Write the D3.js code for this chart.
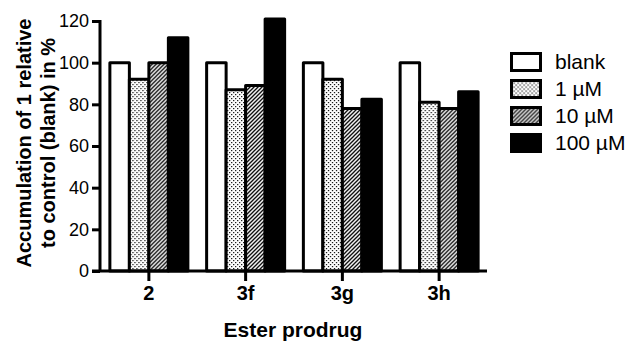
<!DOCTYPE html>
<html>
<head>
<meta charset="utf-8">
<script src="https://cdn.jsdelivr.net/npm/d3@7"></script>
<style>
  html, body { margin: 0; padding: 0; background: #fff; }
  svg { display: block; font-family: "Liberation Sans", Arial, sans-serif; }
</style>
</head>
<body>
<svg id="chart" width="625" height="343"></svg>
<script>
// Ester prodrugs on the x axis, concentration series as grouped bars
const categories = ["2", "3f", "3g", "3h"];
const seriesNames = ["blank", "1 µM", "10 µM", "100 µM"];
const blankValues = [100, 100, 100, 100];
const oneMicroValues = [92, 87, 92, 81];
const tenMicroValues = [100, 89, 78, 78];
const hundredMicroValues = [112, 121, 82.5, 86];
const yTicks = [0, 20, 40, 60, 80, 100, 120];

const seriesValues = [blankValues, oneMicroValues, tenMicroValues, hundredMicroValues];
const fills = ["#fff", "url(#dots)", "url(#hatch)", "#000"];

const svg = d3.select("#chart");

// fill patterns
const defs = svg.append("defs");
const dots = defs.append("pattern").attr("id", "dots")
  .attr("patternUnits", "userSpaceOnUse").attr("width", 4).attr("height", 4);
dots.append("rect").attr("width", 4).attr("height", 4).attr("fill", "#fff");
dots.append("rect").attr("x", 0).attr("y", 0).attr("width", 1.2).attr("height", 1.2).attr("fill", "#000");
dots.append("rect").attr("x", 2).attr("y", 2).attr("width", 1.2).attr("height", 1.2).attr("fill", "#000");

const hatch = defs.append("pattern").attr("id", "hatch")
  .attr("patternUnits", "userSpaceOnUse").attr("width", 4).attr("height", 4);
hatch.append("rect").attr("width", 4).attr("height", 4).attr("fill", "#fff");
hatch.append("path").attr("d", "M-1,1 L1,-1 M0,4 L4,0 M3,5 L5,3")
  .attr("stroke", "#000").attr("stroke-width", 1.3);

const y = d3.scaleLinear().domain([0, 120]).range([271, 21]);
const x = d3.scalePoint().domain(categories).range([100, 487]).padding(0.5);
const x1 = d3.scaleBand().domain(seriesNames).range([-38.5, 39.5]);

// bars
const groups = svg.append("g").selectAll("g")
  .data(categories).join("g")
  .attr("transform", d => `translate(${x(d)},0)`);

groups.selectAll("rect")
  .data((c, ci) => seriesNames.map((s, si) => ({ s, si, v: seriesValues[si][ci] })))
  .join("rect")
  .attr("x", d => x1(d.s))
  .attr("width", x1.bandwidth())
  .attr("y", d => y(d.v))
  .attr("height", d => y(0) - y(d.v))
  .attr("fill", d => fills[d.si])
  .attr("stroke", "#000")
  .attr("stroke-width", 3)
  .attr("stroke-linejoin", "round");

// y axis
const yAxis = svg.append("g").attr("transform", "translate(100,0)")
  .call(d3.axisLeft(y).tickValues(yTicks).tickSize(8).tickPadding(3));
yAxis.select(".domain").attr("stroke-width", 3).attr("d", `M0,${y(120) - 1}V${y(0)}`);
yAxis.selectAll(".tick line").attr("stroke-width", 3);
yAxis.selectAll(".tick text").attr("font-size", 18).attr("fill", "#000")
  .attr("font-family", "Liberation Sans, Arial, sans-serif");

// x axis
const xAxis = svg.append("g").attr("transform", `translate(0,${y(0)})`)
  .call(d3.axisBottom(x).tickSize(10).tickPadding(5));
xAxis.select(".domain").attr("stroke-width", 3).attr("d", "M92,0H487");
xAxis.selectAll(".tick line").attr("stroke-width", 3);
xAxis.selectAll(".tick text").attr("font-size", 20).attr("font-weight", "bold")
  .attr("fill", "#000").attr("font-family", "Liberation Sans, Arial, sans-serif");

// axis titles
svg.append("text")
  .attr("transform", "translate(31,143) rotate(-90)")
  .attr("text-anchor", "middle").attr("font-size", 20).attr("font-weight", "bold")
  .text("Accumulation of 1 relative");
svg.append("text")
  .attr("transform", "translate(55,143) rotate(-90)")
  .attr("text-anchor", "middle").attr("font-size", 20).attr("font-weight", "bold")
  .text("to control (blank) in %");
svg.append("text")
  .attr("x", 293).attr("y", 337)
  .attr("text-anchor", "middle").attr("font-size", 21).attr("font-weight", "bold")
  .text("Ester prodrug");

// legend
const legend = svg.append("g").selectAll("g")
  .data(seriesNames).join("g")
  .attr("transform", (d, i) => `translate(511.5,${53.5 + i * 27})`);
legend.append("rect")
  .attr("width", 29).attr("height", 17)
  .attr("fill", (d, i) => fills[i])
  .attr("stroke", "#000").attr("stroke-width", 3);
legend.append("text")
  .attr("x", 43.5).attr("y", 15.5)
  .attr("font-size", 21)
  .text(d => d);
</script>
</body>
</html>
